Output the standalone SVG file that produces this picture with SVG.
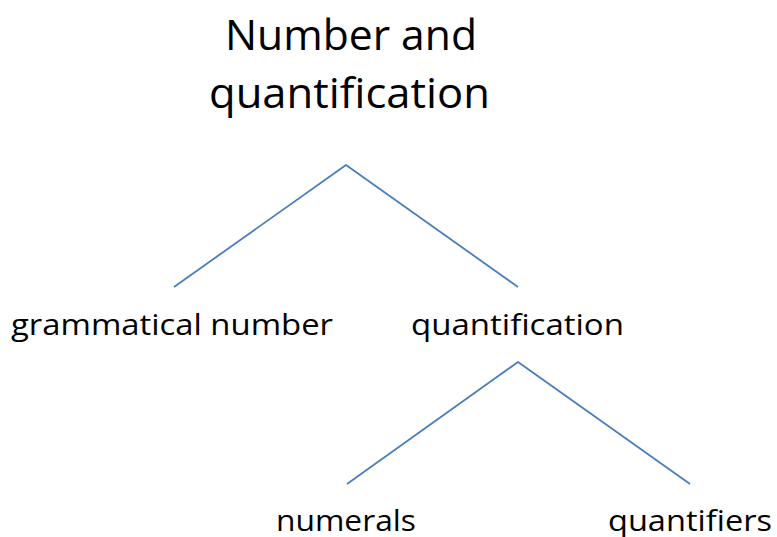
<svg xmlns="http://www.w3.org/2000/svg" width="777" height="537" viewBox="0 0 777 537">
<style>
text{font-family:"Open Sans","Noto Sans","Liberation Sans",sans-serif;fill:#000}
.t{font-size:42px}
.n{font-size:30px}
.c{fill:none;stroke:#4a7ebb;stroke-width:1.8;stroke-linejoin:round}
</style>
<rect width="777" height="537" fill="#fff"/>
<g id="connectors">
<polyline class="c" points="174,287 346,165 518,287"/>
<polyline class="c" points="347,484 518,362 690,484"/>
</g>
<g id="root">
<text class="t" x="225" y="50" textLength="252" lengthAdjust="spacingAndGlyphs">Number and</text>
<text class="t" x="209" y="108" textLength="281" lengthAdjust="spacingAndGlyphs">quantification</text>
</g>
<g id="grammatical-number">
<text class="n" x="11" y="335" textLength="322" lengthAdjust="spacingAndGlyphs">grammatical number</text>
</g>
<g id="quantification">
<text class="n" x="411" y="335" textLength="213" lengthAdjust="spacingAndGlyphs">quantification</text>
</g>
<g id="numerals">
<text class="n" x="276" y="531" textLength="140" lengthAdjust="spacingAndGlyphs">numerals</text>
</g>
<g id="quantifiers">
<text class="n" x="608" y="531" textLength="164" lengthAdjust="spacingAndGlyphs">quantifiers</text>
</g>
</svg>
